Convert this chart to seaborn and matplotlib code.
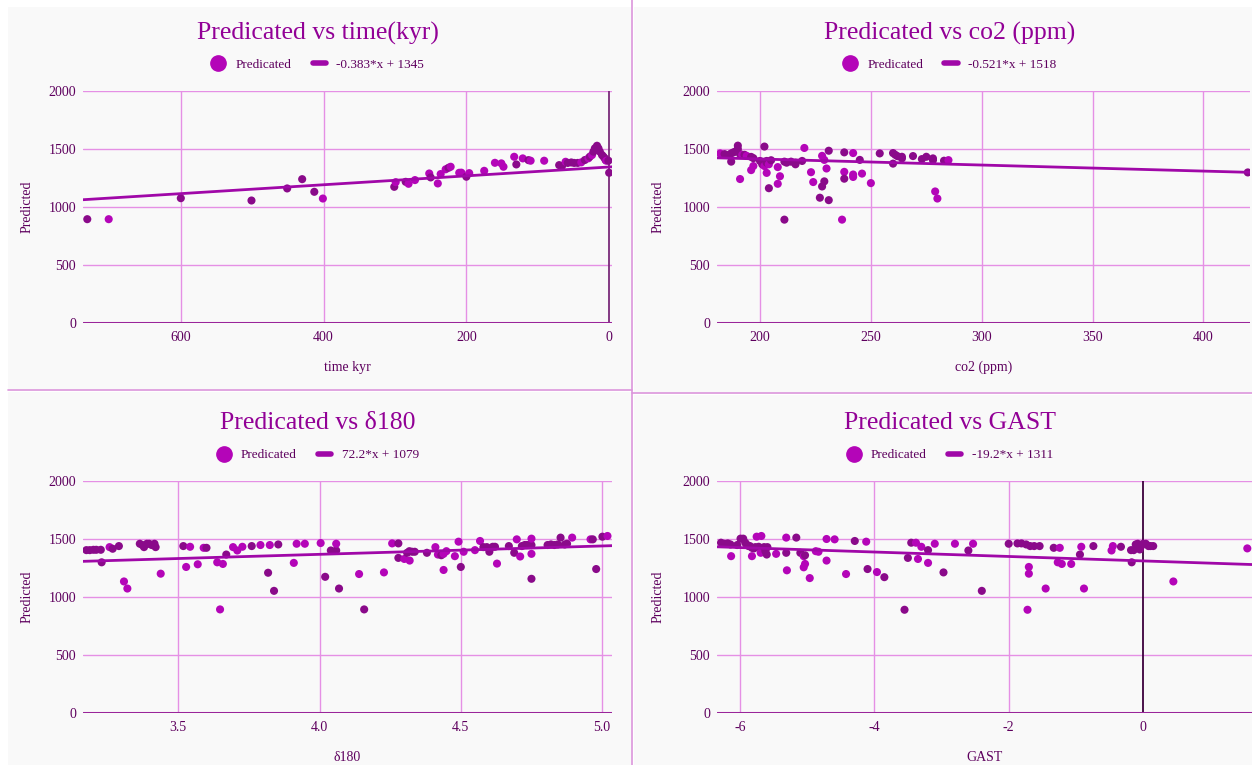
import numpy as np
import pandas as pd
import seaborn as sns
import matplotlib

matplotlib.use("Agg")
import matplotlib.pyplot as plt
from matplotlib.lines import Line2D
from matplotlib.patches import Rectangle

# ---- data ----
# time (kyr) panel
tl_x = [731, 701, 600, 501, 451, 430, 413, 401, 301, 299, 285, 281, 272, 252, 250, 240, 236, 229, 225, 222,
        210, 207, 200, 196, 175, 160, 151, 148, 133, 130, 121, 113, 110, 91, 70, 66, 61, 58, 53, 49,
        44, 39, 34, 29, 27, 24, 22, 20, 17, 15, 13, 10, 8, 6, 5, 4, 1, 0]
tl_y = [895, 895, 1076, 1056, 1160, 1240, 1131, 1073, 1174, 1214, 1217, 1200, 1232, 1289, 1255, 1203, 1284, 1325, 1338, 1347,
        1295, 1296, 1261, 1292, 1312, 1381, 1376, 1347, 1433, 1367, 1419, 1404, 1399, 1399, 1361, 1353, 1390, 1380, 1384, 1380,
        1380, 1385, 1405, 1420, 1434, 1448, 1477, 1506, 1528, 1506, 1477, 1448, 1434, 1420, 1405, 1399, 1399, 1295]
tl_dark = [1, 0, 1, 1, 1, 1, 1, 0, 1, 0, 1, 0, 0, 0, 1, 0, 0, 0, 1, 0,
           0, 0, 1, 0, 0, 0, 0, 0, 0, 1, 0, 1, 0, 0, 1, 1, 0, 1, 1, 1,
           1, 0, 1, 0, 1, 0, 1, 1, 1, 1, 1, 1, 1, 1, 1, 0, 1, 1]

# co2 (ppm) panel
tr_x = [182, 184, 186, 187, 188, 189, 190, 190, 191, 192, 193, 194, 187, 191, 196, 197, 196, 197, 200, 201,
        202, 203, 203, 204, 205, 202, 203, 204, 208, 209, 208, 211, 212, 214, 216, 216, 219, 211, 220, 223,
        224, 228, 229, 231, 230, 229, 228, 227, 231, 237, 238, 242, 238, 238, 242, 242, 246, 245, 250, 254,
        260, 261, 262, 260, 264, 264, 269, 273, 275, 278, 278, 279, 280, 283, 285, 420]
tr_y = [1462, 1456, 1450, 1462, 1471, 1479, 1529, 1500, 1456, 1450, 1450, 1441, 1391, 1241, 1318, 1353, 1432, 1421, 1397, 1368,
        1353, 1382, 1397, 1368, 1403, 1521, 1294, 1162, 1344, 1265, 1200, 1391, 1382, 1391, 1368, 1382, 1397, 891, 1509, 1300,
        1215, 1441, 1406, 1485, 1332, 1221, 1177, 1080, 1059, 891, 1471, 1465, 1303, 1244, 1280, 1259, 1288, 1406, 1206, 1462,
        1465, 1450, 1438, 1374, 1433, 1419, 1439, 1413, 1433, 1404, 1419, 1134, 1073, 1399, 1404, 1298]
tr_dark = [0, 1, 1, 1, 1, 1, 1, 1, 1, 0, 1, 0, 1, 0, 0, 0, 1, 1, 1, 1,
           0, 1, 1, 0, 1, 1, 0, 1, 0, 0, 0, 1, 1, 1, 1, 1, 1, 1, 0, 0,
           0, 0, 0, 1, 0, 1, 1, 1, 1, 0, 1, 0, 0, 1, 0, 0, 0, 1, 0, 1,
           1, 1, 1, 1, 1, 1, 1, 1, 1, 1, 1, 0, 0, 1, 0, 1]

# δ180 panel
bl_x = [3.175, 3.187, 3.2, 3.21, 3.226, 3.229, 3.257, 3.268, 3.29, 3.308,
        3.32, 3.364, 3.373, 3.379, 3.389, 3.397, 3.406, 3.416, 3.42, 3.438,
        3.518, 3.542, 3.528, 3.569, 3.59, 3.6, 3.638, 3.658, 3.648, 3.67,
        3.694, 3.709, 3.727, 3.76, 3.791, 3.824, 3.818, 3.839, 3.854, 3.909,
        3.919, 3.948, 4.004, 4.02, 4.04, 4.059, 4.059, 4.069, 4.14, 4.158,
        4.228, 4.257, 4.279, 4.279, 4.3, 4.319, 4.31, 4.318, 4.328, 4.337,
        4.38, 4.41, 4.419, 4.431, 4.439, 4.449, 4.439, 4.479, 4.492, 4.5,
        4.51, 4.55, 4.568, 4.58, 4.592, 4.601, 4.613, 4.621, 4.628, 4.67,
        4.689, 4.71, 4.698, 4.716, 4.726, 4.734, 4.743, 4.75, 4.75, 4.75,
        4.75, 4.807, 4.819, 4.831, 4.843, 4.853, 4.868, 4.876, 4.894, 4.959,
        4.967, 4.979, 5.001, 5.019]
bl_y = [1404, 1404, 1407, 1407, 1407, 1299, 1430, 1416, 1439, 1134,
        1073, 1459, 1448, 1430, 1459, 1459, 1448, 1459, 1430, 1201,
        1439, 1433, 1259, 1282, 1424, 1424, 1299, 1285, 893, 1366,
        1430, 1401, 1433, 1439, 1448, 1448, 1209, 1053, 1453, 1294,
        1459, 1459, 1465, 1174, 1401, 1401, 1459, 1073, 1198, 893,
        1212, 1462, 1462, 1337, 1328, 1314, 1381, 1395, 1390, 1390,
        1381, 1430, 1366, 1360, 1372, 1395, 1233, 1352, 1477, 1259,
        1390, 1404, 1483, 1430, 1430, 1390, 1433, 1433, 1288, 1439,
        1381, 1349, 1497, 1439, 1448, 1448, 1448, 1448, 1503, 1372,
        1157, 1448, 1453, 1448, 1453, 1512, 1453, 1459, 1512, 1497,
        1497, 1241, 1520, 1526]
bl_dark = [1, 1, 1, 1, 1, 1, 0, 1, 1, 0, 0, 1, 1, 1, 1, 1, 1, 1, 1, 0,
           1, 0, 0, 0, 0, 1, 0, 0, 0, 1, 0, 0, 0, 1, 0, 0, 1, 1, 1, 0,
           0, 0, 0, 1, 1, 1, 0, 1, 0, 1, 0, 0, 1, 1, 0, 0, 1, 1, 1, 1,
           1, 0, 0, 1, 0, 0, 0, 0, 0, 1, 0, 0, 0, 1, 1, 1, 1, 1, 0, 1,
           1, 0, 0, 1, 1, 1, 1, 1, 0, 0, 1, 1, 1, 1, 1, 1, 1, 1, 0, 0,
           1, 1, 1, 0]

# GAST panel
br_x = [-6.28, -6.23, -6.18, -6.14, -6.13, -6.04, -5.99, -5.95, -5.92, -5.90,
        -5.87, -5.85, -5.82, -5.79, -5.77, -5.82, -5.75, -5.68, -5.72, -5.69,
        -5.64, -5.62, -5.59, -5.60, -5.46, -5.31, -5.16, -5.31, -5.30, -5.10,
        -5.05, -5.03, -5.05, -5.03, -4.96, -4.87, -4.83, -4.71, -4.59, -4.71,
        -4.42, -4.29, -4.12, -4.10, -3.96, -3.85, -3.45, -3.38, -3.55, -3.50,
        -3.35, -3.30, -3.20, -3.20, -3.10, -2.97, -2.80, -2.60, -2.53, -2.40,
        -2.00, -1.87, -1.81, -1.74, -1.68, -1.62, -1.54, -1.70, -1.70, -1.72,
        -1.33, -1.24, -1.27, -1.21, -1.07, -1.45, -0.94, -0.92, -0.74, -0.88,
        -0.47, -0.45, -0.33, -0.17, -0.18, -0.14, -0.11, -0.08, -0.05, -0.03,
        0.00, 0.04, 0.08, 0.11, 0.15, 0.45, 1.55]
br_y = [1468, 1459, 1462, 1453, 1352, 1448, 1503, 1503, 1468, 1453,
        1439, 1439, 1424, 1419, 1430, 1352, 1520, 1526, 1433, 1381,
        1430, 1395, 1430, 1366, 1372, 1512, 1512, 1381, 1230, 1381,
        1352, 1360, 1256, 1285, 1163, 1395, 1390, 1500, 1497, 1314,
        1198, 1483, 1477, 1241, 1215, 1171, 1468, 1468, 890, 1337,
        1328, 1433, 1404, 1294, 1459, 1212, 1459, 1401, 1459, 1053,
        1459, 1462, 1462, 1453, 1439, 1439, 1439, 1259, 1201, 890,
        1424, 1424, 1299, 1285, 1285, 1073, 1366, 1433, 1439, 1073,
        1401, 1439, 1433, 1299, 1404, 1404, 1453, 1459, 1410, 1439,
        1459, 1459, 1439, 1439, 1439, 1134, 1419]
br_dark = [1, 1, 1, 1, 0, 1, 1, 1, 1, 1, 1, 1, 1, 1, 1, 0, 0, 0, 1, 0,
           1, 1, 1, 1, 0, 0, 1, 1, 0, 1, 0, 1, 0, 0, 0, 0, 0, 0, 0, 0,
           0, 1, 0, 1, 0, 1, 1, 0, 1, 1, 0, 0, 1, 0, 0, 1, 0, 1, 0, 1,
           1, 1, 1, 1, 1, 1, 1, 0, 0, 0, 1, 0, 0, 0, 0, 0, 1, 0, 1, 0,
           0, 0, 1, 1, 1, 1, 1, 1, 1, 1, 1, 1, 1, 1, 1, 0, 0]

# trend lines from the legends
slopes = [-0.383, -0.521, 72.2, -19.2]
intercepts = [1345, 1518, 1079, 1311]
trend_labels = ["-0.383*x + 1345", "-0.521*x + 1518", "72.2*x + 1079", "-19.2*x + 1311"]
titles = ["Predicated vs time(kyr)", "Predicated vs co2 (ppm)", "Predicated vs δ180", "Predicated vs GAST"]
xlabels = ["time kyr", "co2 (ppm)", "δ180", "GAST"]
xtick_vals = [[600, 400, 200, 0], [200, 250, 300, 350, 400], [3.5, 4.0, 4.5, 5.0], [-6, -4, -2, 0]]
xtick_text = [["600", "400", "200", "0"], ["200", "250", "300", "350", "400"],
              ["3.5", "4.0", "4.5", "5.0"], ["-6", "-4", "-2", "0"]]
ytick_vals = [0, 500, 1000, 1500, 2000]

# ---- style ----
DARK = "#8a0a8a"
MAGENTA = "#b405b8"
LINE = "#a008a8"
TITLE_C = "#920096"
TEXT_C = "#5e005e"
GRID_C = "#e590e5"
BG = "#f9f9f9"

sns.set_style("white")
plt.rcParams["font.family"] = ["Liberation Serif", "DejaVu Serif"]
plt.rcParams["axes.unicode_minus"] = False

fig = plt.figure(figsize=(12.52, 7.65), dpi=100)
fig.patch.set_facecolor("white")
W, H = 1252, 765


def fx(px):
    return px / W


def fy(py):
    return 1 - py / H


# panel backgrounds (behind the axes) and separators
for (x0, y0, x1, y1) in [(8, 7, 631, 389), (634, 7, 1252, 392), (8, 392, 631, 765), (634, 395, 1252, 765)]:
    fig.patches.append(Rectangle((fx(x0), fy(y1)), fx(x1) - fx(x0), fy(y0) - fy(y1),
                                 transform=fig.transFigure, facecolor=BG, edgecolor="none", zorder=-5))
fig.add_artist(Line2D([fx(632), fx(632)], [0, 1], color="#dc96dc", lw=1.2, zorder=-4))
fig.add_artist(Line2D([fx(8), fx(632)], [fy(390), fy(390)], color="#dc96dc", lw=1.2, zorder=-4))
fig.add_artist(Line2D([fx(632), 1], [fy(393), fy(393)], color="#dc96dc", lw=1.2, zorder=-4))

# axes boxes in pixels: (left, top, right, bottom)
boxes = [(83, 91, 612, 323), (717, 91, 1250, 323), (83, 481, 612, 713), (717, 481, 1252, 713)]
xlims = [(737, -4), (180.6, 421), (3.163, 5.035), (-6.34, 1.62)]
panel_cx = [318, 950, 318, 950]
title_y = [33, 33, 423, 423]
legend_y = [65, 65, 455, 455]
ylabel_right = [34, 665, 34, 665]
zero_lines = [(0, "#7a2a7a"), None, None, (0, "#3c003c")]

panels = [(tl_x, tl_y, tl_dark), (tr_x, tr_y, tr_dark), (bl_x, bl_y, bl_dark), (br_x, br_y, br_dark)]

for i, (xs, ys, dk) in enumerate(panels):
    l, t, r, b = boxes[i]
    ax = fig.add_axes([fx(l), fy(b), fx(r) - fx(l), fy(t) - fy(b)])
    ax.set_facecolor(BG)

    df = pd.DataFrame({"x": xs, "y": ys, "shade": np.where(np.array(dk) == 1, "dark", "light")})
    sns.scatterplot(data=df, x="x", y="y", hue="shade", palette={"dark": DARK, "light": MAGENTA},
                    s=34, linewidth=0, legend=False, ax=ax, zorder=3)

    lim = np.array(xlims[i], dtype=float)
    ax.plot(lim, slopes[i] * lim + intercepts[i], color=LINE, lw=2, zorder=4)

    ax.set_xlim(*xlims[i])
    ax.set_ylim(0, 2000)
    ax.set_xticks(xtick_vals[i])
    ax.set_xticklabels(xtick_text[i])
    ax.set_yticks(ytick_vals)
    ax.set_yticklabels([str(v) for v in ytick_vals])
    ax.tick_params(length=0, labelsize=10, colors=TEXT_C, pad=6)
    ax.tick_params(axis="y", pad=5)

    for sp in ax.spines.values():
        sp.set_visible(False)
    for v in ytick_vals[1:]:
        ax.axhline(v, color=GRID_C, lw=1, zorder=1)
    for v in xtick_vals[i]:
        if zero_lines[i] is not None and v == zero_lines[i][0]:
            continue
        ax.axvline(v, color=GRID_C, lw=1, zorder=1)
    if zero_lines[i] is not None:
        ax.axvline(zero_lines[i][0], color=zero_lines[i][1], lw=1.3, zorder=2)
    ax.axhline(0, color="#9a259a", lw=2.2, zorder=2)

    ax.set_xlabel(xlabels[i], fontsize=10, color=TEXT_C)
    ax.set_ylabel("Predicted", fontsize=10, color=TEXT_C)
    ax.xaxis.set_label_coords(0.5, -38 / (b - t))
    ax.yaxis.set_label_coords((ylabel_right[i] - l) / (r - l), 0.5)

    fig.text(fx(panel_cx[i]), fy(title_y[i]), titles[i], ha="center", va="center",
             fontsize=18.5, color=TITLE_C)

    handles = [Line2D([], [], marker="o", ls="", color=MAGENTA, markersize=11),
               Line2D([], [], color=LINE, lw=4)]
    leg = ax.legend(handles, ["Predicated", trend_labels[i]], loc="center",
                    bbox_to_anchor=(fx(panel_cx[i]), fy(legend_y[i])), bbox_transform=fig.transFigure,
                    ncol=2, frameon=False, fontsize=9.5, handlelength=1.0, handletextpad=0.8,
                    columnspacing=1.6)
    for txt in leg.get_texts():
        txt.set_color(TEXT_C)

fig.savefig("out.png", dpi=100, facecolor=fig.get_facecolor())
